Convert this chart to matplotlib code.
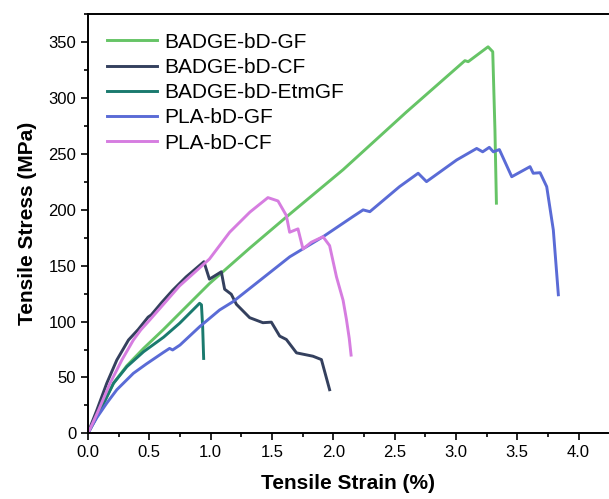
import matplotlib.pyplot as plt
from matplotlib.ticker import MultipleLocator

plt.rcParams['font.family'] = ['Liberation Sans', 'DejaVu Sans']

# Kurvendaten
gf_strain = [0.0, 0.04, 0.10, 0.208, 0.317, 0.453, 0.616, 0.747, 0.99, 1.32, 1.62, 2.08, 2.595, 3.073, 3.10,
             3.262, 3.30, 3.318, 3.33]
gf_stress = [0.0, 8.5, 20.7, 44.8, 60.5, 76, 93, 107.4, 134, 165.9, 193.9, 236, 287.5, 333.6, 332.7,
             346, 341.6, 271.5, 206]

cf_strain = [0.0, 0.03, 0.072, 0.153, 0.235, 0.33, 0.41, 0.49, 0.516, 0.6, 0.69, 0.8, 0.945, 0.99, 1.087,
             1.114, 1.168, 1.21, 1.318, 1.426, 1.495, 1.563, 1.617, 1.70, 1.834, 1.903, 1.97]
cf_stress = [0.0, 9, 20.7, 44.8, 65.6, 83.5, 93, 104, 106, 117, 128, 140, 153.6, 138, 144.6,
             129, 124.5, 115.5, 103.5, 99, 99.5, 87, 84, 72, 69, 66, 39]

etm_strain = [0.0, 0.04, 0.10, 0.208, 0.317, 0.453, 0.616, 0.747, 0.91, 0.925, 0.935, 0.943]
etm_stress = [0.0, 8.5, 20.7, 44.8, 59.6, 73, 86, 98.5, 116.4, 115, 95, 67]

pla_gf_strain = [0.0, 0.03, 0.072, 0.153, 0.235, 0.37, 0.475, 0.616, 0.665, 0.69, 0.75, 0.91, 1.073, 1.182,
                 1.645, 1.917, 2.16, 2.243, 2.298, 2.54, 2.692, 2.76, 3.006, 3.169, 3.218, 3.272, 3.305,
                 3.354, 3.455, 3.604, 3.63, 3.686, 3.74, 3.794, 3.835]
pla_gf_stress = [0.0, 6, 14, 27, 39, 53.7, 62, 72.5, 76, 74.6, 79, 95.4, 110.4, 117.8,
                 158, 176, 194, 200, 198.4, 220.8, 232.8, 225.3, 244.7, 255, 252, 256, 252,
                 254, 229.7, 238.7, 232.8, 233.3, 220.8, 182, 124]

pla_cf_strain = [0.0, 0.04, 0.086, 0.18, 0.276, 0.37, 0.43, 0.5, 0.747, 0.99, 1.155, 1.32, 1.467, 1.549,
                 1.617, 1.644, 1.712, 1.753, 1.82, 1.916, 1.97, 2.026, 2.08, 2.107, 2.13, 2.145]
pla_cf_stress = [0.0, 9.5, 20.7, 44.8, 65.6, 83.5, 92.5, 101, 132, 156, 180, 198, 211, 208,
                 195, 180, 183, 165, 171, 176, 168, 140, 119, 102, 85, 70]

labels = ['BADGE-bD-GF', 'BADGE-bD-CF', 'BADGE-bD-EtmGF', 'PLA-bD-GF', 'PLA-bD-CF']
colors = ['#66c466', '#34405e', '#1a7a6e', '#5a6bd6', '#d67de0']

fig = plt.figure(figsize=(6.09, 4.99), dpi=100)
ax = fig.add_axes([0.1445, 0.1317, 0.8539, 0.8403])

serien = [(gf_strain, gf_stress), (cf_strain, cf_stress), (etm_strain, etm_stress),
          (pla_gf_strain, pla_gf_stress), (pla_cf_strain, pla_cf_stress)]
for (x, y), lab, col in zip(serien, labels, colors):
    ax.plot(x, y, color=col, lw=2.1, label=lab, solid_joinstyle='round')

ax.set_xlim(0, 4.24)
ax.set_ylim(0, 375.4)
ax.xaxis.set_major_locator(MultipleLocator(0.5))
ax.xaxis.set_minor_locator(MultipleLocator(0.25))
ax.yaxis.set_major_locator(MultipleLocator(50))
ax.yaxis.set_minor_locator(MultipleLocator(25))
ax.tick_params(which='both', direction='out', labelsize=12, width=1.2)
ax.tick_params(which='major', length=5)
ax.tick_params(which='minor', length=3)
for s in ['left', 'bottom', 'top']:
    ax.spines[s].set_linewidth(1.4)
ax.spines['right'].set_visible(False)

ax.set_xlabel('Tensile Strain (%)', fontsize=15, fontweight='bold', labelpad=10)
ax.set_ylabel('Tensile Stress (MPa)', fontsize=15, fontweight='bold', labelpad=8)

ax.legend(loc='upper left', frameon=False, fontsize=15, handlelength=2.4,
          handletextpad=0.35, labelspacing=0.3, borderaxespad=0.5,
          bbox_to_anchor=(0.0, 1.0))

fig.savefig('out.png', dpi=100)
